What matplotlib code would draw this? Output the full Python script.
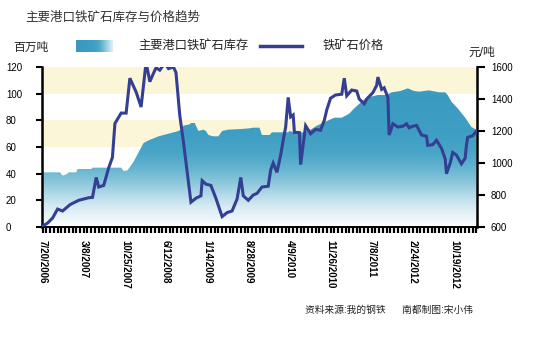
import numpy as np
import matplotlib
matplotlib.use("Agg")
import matplotlib.pyplot as plt
from matplotlib.colors import LinearSegmentedColormap
from matplotlib.lines import Line2D

plt.rcParams['font.family'] = ['Liberation Sans', 'Noto Sans CJK SC', 'DejaVu Sans']

# weekly index, week 0 = 7/20/2006, a label every 33 weeks
date_labels = ["7/20/2006", "3/8/2007", "10/25/2007", "6/12/2008", "1/14/2009", "8/28/2009",
               "4/9/2010", "11/26/2010", "7/8/2011", "2/24/2012", "10/19/2012"]

# port iron ore stock, million tonnes
stock_weeks = [0, 14, 16, 19, 21, 27, 28, 39, 40, 63, 65, 68, 70, 73, 77, 81, 85, 93, 101, 109,
               112, 113, 118, 119, 122, 125, 129, 131, 133, 137, 141, 144, 149, 159, 166, 169, 174,
               176, 182, 184, 197, 198, 202, 210, 215, 220, 227, 234, 240, 246, 250, 256, 260, 269,
               276, 280, 287, 293, 298, 302, 310, 318, 323, 325, 328, 333, 339, 344, 348]
stock_values = [41, 41, 38.5, 39.5, 41, 41, 43.5, 43.5, 44.5, 44.5, 42, 42.5, 45, 49, 56, 63, 65,
                68, 70, 72, 74, 76, 77, 78, 78, 72, 73, 72, 69, 68, 68, 72, 73, 73.5, 74, 74.5,
                74.5, 69, 69, 71, 71, 72, 71, 71, 73, 76, 79, 82, 82, 85, 89, 94, 97, 99,
                99, 101, 102, 104, 102, 101.5, 102.5, 101, 101, 99, 94, 89, 82, 75, 73]

# iron ore price, yuan/tonne
price_weeks = [0, 4, 8, 12, 16, 22, 29, 37, 40, 43, 45, 49, 53, 56, 58, 63, 67, 70, 75, 79, 83, 86,
               89, 91, 94, 98, 101, 105, 107, 110, 113, 119, 123, 127, 128, 131, 135, 139, 144, 148,
               152, 156, 159, 161, 165, 169, 172, 176, 181, 183, 185, 188, 191, 193, 195, 197, 199,
               201, 202, 206, 207, 211, 215, 219, 223, 226, 228, 231, 235, 240, 242, 244, 248, 252,
               254, 258, 260, 265, 268, 269, 272, 274, 277, 278, 281, 285, 289, 292, 294, 297, 300,
               304, 308, 309, 313, 316, 320, 323, 324, 327, 329, 332, 336, 339, 340, 341, 345, 348]
price_values = [605, 625, 656, 712, 700, 740, 767, 783, 785, 910, 850, 860, 970, 1035, 1247, 1312,
                1312, 1530, 1444, 1350, 1630, 1508, 1562, 1595, 1580, 1625, 1590, 1600, 1565, 1300,
                1130, 755, 780, 795, 890, 868, 860, 780, 665, 690, 700, 775, 910, 795, 767, 800, 810,
                850, 855, 958, 1000, 942, 1050, 1142, 1225, 1410, 1288, 1300, 1192, 1190, 990, 1233,
                1183, 1210, 1205, 1267, 1333, 1405, 1425, 1430, 1530, 1420, 1456, 1450, 1400, 1370,
                1400, 1440, 1485, 1537, 1460, 1470, 1410, 1175, 1245, 1225, 1230, 1245, 1220, 1230,
                1235, 1175, 1167, 1110, 1115, 1142, 1092, 1025, 933, 1000, 1066, 1050, 995, 1030,
                1110, 1160, 1170, 1200]

line_color = '#343f93'
band_color = '#fcf6d9'
W, H = 540, 341

fig = plt.figure(figsize=(W / 100, H / 100), dpi=100)
ax = fig.add_axes([42 / W, 114 / H, 435 / W, 160 / H])
ax.set_xlim(-0.5, 348.5)
ax.set_ylim(0, 120)

ax.axhspan(100, 120, color=band_color, lw=0, zorder=0)
ax.axhspan(60, 80, color=band_color, lw=0, zorder=0)

# stock area with a vertical blue-to-white gradient
grad_cmap = LinearSegmentedColormap.from_list('stock', [
    (0.0, '#ffffff'), (6 / 120, '#eef6fa'), (15 / 120, '#d6ebf3'), (25 / 120, '#b0d8e7'),
    (35 / 120, '#85c4da'), (45 / 120, '#62b3cf'), (55 / 120, '#4aa6c8'), (70 / 120, '#3f9ec3'),
    (1.0, '#3998bd')])
area = ax.fill_between(stock_weeks, 0, stock_values, facecolor='none', lw=0)
grad = np.linspace(0, 1, 256).reshape(-1, 1)
im = ax.imshow(grad, extent=[-0.5, 348.5, 0, 120], origin='lower', aspect='auto',
               cmap=grad_cmap, zorder=1, interpolation='bilinear')
im.set_clip_path(area.get_paths()[0], transform=ax.transData)

ax2 = ax.twinx()
ax2.set_ylim(600, 1600)
ax2.plot(price_weeks, price_values, color=line_color, lw=2.2, solid_joinstyle='miter', zorder=3)

for s in ['top', 'right']:
    ax.spines[s].set_visible(False)
for s in ['top', 'left', 'bottom']:
    ax2.spines[s].set_visible(False)
ax.spines['left'].set_linewidth(1.8)
ax.spines['bottom'].set_linewidth(1.4)
ax2.spines['right'].set_linewidth(1.8)

# x ticks: a comb every 3 weeks, labels every 33 weeks
ax.set_xticks(np.arange(0, 349, 33))
ax.set_xticklabels(date_labels, rotation=270, fontsize=7, fontweight='bold', va='top', ha='center')
ax.set_xticks(np.arange(0, 349, 3), minor=True)
ax.tick_params(axis='x', which='both', direction='out', length=4.5, width=1.6, color='black', pad=4.5)

ax.set_yticks(np.arange(0, 121, 20))
ax.set_yticklabels([str(v) for v in range(0, 121, 20)], fontsize=7, ha='left')
ax.tick_params(axis='y', direction='out', length=4, width=1.5, pad=22)

ax2.set_yticks(np.arange(600, 1601, 200))
ax2.set_yticklabels([str(v) for v in range(600, 1601, 200)], fontsize=7)
ax2.tick_params(axis='y', direction='out', length=6, width=1.5, pad=4)

# header texts and legend
fig.text(25 / W, 1 - 17 / H, '主要港口铁矿石库存与价格趋势', fontsize=9, color='#333333', va='center')
fig.text(13 / W, 1 - 48 / H, '百万吨', fontsize=8.5, color='#222222', va='center')
fig.text(138 / W, 1 - 46 / H, '主要港口铁矿石库存', fontsize=8.8, color='#222222', va='center')
fig.text(323 / W, 1 - 46 / H, '铁矿石价格', fontsize=8.8, color='#222222', va='center')
fig.text(468 / W, 1 - 53 / H, '元/吨', fontsize=8.5, color='#222222', va='center')

leg_ax = fig.add_axes([76 / W, 1 - 52 / H, 36 / W, 12 / H])
leg_grad = np.linspace(1, 0.1, 128).reshape(1, -1)
leg_ax.imshow(leg_grad, cmap=grad_cmap, aspect='auto', vmin=0, vmax=1)
leg_ax.axis('off')
fig.add_artist(Line2D([260 / W, 302 / W], [1 - 46 / H] * 2, color=line_color, lw=2.5))

fig.text(305 / W, 1 - 310 / H, '资料来源:我的钢铁      南都制图:宋小伟', fontsize=7, color='#222222', va='center')

fig.savefig('out.png', dpi=100)
